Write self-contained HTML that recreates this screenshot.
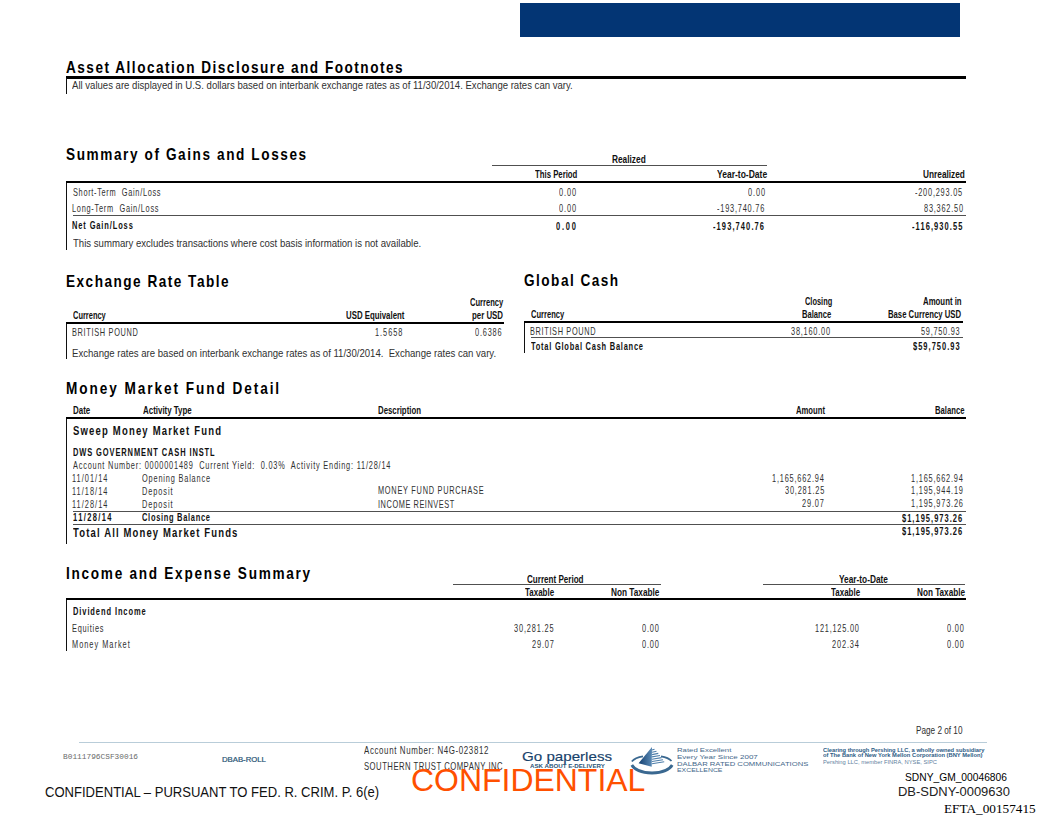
<!DOCTYPE html>
<html><head><meta charset="utf-8"><style>
html,body{margin:0;padding:0;background:#fff;}
body{width:1056px;height:833px;position:relative;overflow:hidden;font-family:"Liberation Sans",sans-serif;}
body>div{position:absolute;}
.t{white-space:pre;transform-origin:0 0;}
</style></head><body>
<div style="left:520px;top:2.6px;width:440px;height:34.6px;background:#033574"></div>
<div style="left:66px;top:76px;width:900px;height:2.7px;background:#000"></div>
<div style="left:65.85px;top:78px;width:1.3px;height:16.2px;background:#111"></div>
<div style="left:492px;top:165px;width:275px;height:1px;background:#505050"></div>
<div style="left:66px;top:180.5px;width:900px;height:2.5px;background:#000"></div>
<div style="left:65.94999999999999px;top:183px;width:1.3px;height:66.8px;background:#111"></div>
<div style="left:72.5px;top:215px;width:893.5px;height:1px;background:#505050"></div>
<div style="left:66.4px;top:321.8px;width:438.1px;height:2.2px;background:#000"></div>
<div style="left:66.14999999999999px;top:324px;width:1.3px;height:35.3px;background:#111"></div>
<div style="left:524px;top:321px;width:438.5px;height:2.3px;background:#000"></div>
<div style="left:523.85px;top:323px;width:1.3px;height:30.2px;background:#111"></div>
<div style="left:531px;top:337px;width:431.5px;height:1px;background:#505050"></div>
<div style="left:66px;top:416.6px;width:899.7px;height:2.4px;background:#000"></div>
<div style="left:65.85px;top:419px;width:1.3px;height:124.6px;background:#111"></div>
<div style="left:73px;top:511px;width:892.7px;height:1px;background:#505050"></div>
<div style="left:73px;top:524px;width:892.7px;height:1px;background:#505050"></div>
<div style="left:452.5px;top:584px;width:208.0px;height:1px;background:#505050"></div>
<div style="left:763.2px;top:584px;width:202.3px;height:1px;background:#505050"></div>
<div style="left:66px;top:598.3px;width:899.5px;height:2.2px;background:#000"></div>
<div style="left:65.94999999999999px;top:600px;width:1.3px;height:51px;background:#111"></div>
<div style="left:78.8px;top:742.1px;width:908.4px;height:1.4px;background:#b9cdd9"></div>
<svg style="position:absolute;left:625px;top:740px" width="60" height="40" viewBox="625 740 60 40">
<defs><linearGradient id="pg" x1="0" x2="1" y1="0" y2="0"><stop offset="0" stop-color="#143f70"/><stop offset="1" stop-color="#5a8ab5"/></linearGradient></defs>
<g fill="none" stroke="#3a6890">
<path d="M631.8 761.6 Q635 757.5 643 756.4" stroke-width="1.7"/>
<path d="M661 756.3 Q668.5 757.5 671.5 761" stroke-width="1.7"/>
<path d="M631.8 765 Q636 772.5 652 773 Q668 772.5 672.2 765" stroke-width="2.8"/>
</g>
<polygon points="652,747 638.6,763.3 651.7,766.7" fill="url(#pg)"/>
<g stroke="#4f7fab" stroke-width="1.1">
<line x1="652" y1="750" x2="654.5" y2="749.2"/>
<line x1="652" y1="752.3" x2="656.5" y2="751.3"/>
<line x1="652" y1="754.6" x2="658.3" y2="753.4"/>
<line x1="652" y1="756.9" x2="660" y2="755.5"/>
<line x1="652" y1="759.2" x2="661.6" y2="757.6"/>
<line x1="652" y1="761.5" x2="663" y2="759.7"/>
<line x1="652" y1="763.8" x2="664.2" y2="761.8"/>
</g>
</svg>
<div class="t" style="left:65.73px;top:58.51px;font-size:17px;line-height:17px;color:#000;transform:scaleX(0.8000);font-weight:bold;letter-spacing:1.867px;">Asset Allocation Disclosure and Footnotes</div>
<div class="t" style="left:72.30px;top:80.47px;font-size:11.5px;line-height:11.5px;color:#303030;transform:scaleX(0.8321);">All values are displayed in U.S. dollars based on interbank exchange rates as of 11/30/2014. Exchange rates can vary.</div>
<div class="t" style="left:66.33px;top:146.01px;font-size:17px;line-height:17px;color:#000;transform:scaleX(0.8000);font-weight:bold;letter-spacing:1.990px;">Summary of Gains and Losses</div>
<div class="t" style="left:611.60px;top:154.21px;font-size:10.5px;line-height:10.5px;color:#111;transform:scaleX(0.7912);font-weight:bold;">Realized</div>
<div class="t" style="left:535.32px;top:168.71px;font-size:10.5px;line-height:10.5px;color:#111;transform:scaleX(0.7407);font-weight:bold;">This Period</div>
<div class="t" style="left:717.11px;top:168.71px;font-size:10.5px;line-height:10.5px;color:#111;transform:scaleX(0.8101);font-weight:bold;">Year-to-Date</div>
<div class="t" style="left:923.10px;top:169.21px;font-size:10.5px;line-height:10.5px;color:#111;transform:scaleX(0.7891);font-weight:bold;">Unrealized</div>
<div class="t" style="left:72.51px;top:186.79px;font-size:11px;line-height:11px;color:#303030;transform:scaleX(0.6700);letter-spacing:1.029px;">Short-Term  Gain/Loss</div>
<div class="t" style="left:559.28px;top:186.79px;font-size:11px;line-height:11px;color:#303030;transform:scaleX(0.6700);letter-spacing:1.315px;">0.00</div>
<div class="t" style="left:748.28px;top:186.79px;font-size:11px;line-height:11px;color:#303030;transform:scaleX(0.6700);letter-spacing:1.315px;">0.00</div>
<div class="t" style="left:915.41px;top:186.79px;font-size:11px;line-height:11px;color:#303030;transform:scaleX(0.6700);letter-spacing:1.167px;">-200,293.05</div>
<div class="t" style="left:72.21px;top:203.29px;font-size:11px;line-height:11px;color:#303030;transform:scaleX(0.6700);letter-spacing:1.100px;">Long-Term  Gain/Loss</div>
<div class="t" style="left:559.28px;top:203.39px;font-size:11px;line-height:11px;color:#303030;transform:scaleX(0.6700);letter-spacing:1.315px;">0.00</div>
<div class="t" style="left:716.91px;top:203.39px;font-size:11px;line-height:11px;color:#303030;transform:scaleX(0.6700);letter-spacing:1.197px;">-193,740.76</div>
<div class="t" style="left:923.71px;top:203.39px;font-size:11px;line-height:11px;color:#303030;transform:scaleX(0.6700);letter-spacing:1.171px;">83,362.50</div>
<div class="t" style="left:72.35px;top:220.19px;font-size:11px;line-height:11px;color:#111;transform:scaleX(0.6800);font-weight:bold;letter-spacing:1.290px;">Net Gain/Loss</div>
<div class="t" style="left:556.48px;top:220.69px;font-size:11px;line-height:11px;color:#111;transform:scaleX(0.6800);font-weight:bold;letter-spacing:2.567px;">0.00</div>
<div class="t" style="left:712.78px;top:220.69px;font-size:11px;line-height:11px;color:#111;transform:scaleX(0.6800);font-weight:bold;letter-spacing:1.628px;">-193,740.76</div>
<div class="t" style="left:911.58px;top:220.69px;font-size:11px;line-height:11px;color:#111;transform:scaleX(0.6800);font-weight:bold;letter-spacing:1.604px;">-116,930.55</div>
<div class="t" style="left:72.61px;top:238.19px;font-size:11px;line-height:11px;color:#303030;transform:scaleX(0.8723);">This summary excludes transactions where cost basis information is not available.</div>
<div class="t" style="left:65.98px;top:272.71px;font-size:17px;line-height:17px;color:#000;transform:scaleX(0.8000);font-weight:bold;letter-spacing:1.860px;">Exchange Rate Table</div>
<div class="t" style="left:469.70px;top:297.11px;font-size:10.5px;line-height:10.5px;color:#111;transform:scaleX(0.7218);font-weight:bold;">Currency</div>
<div class="t" style="left:72.70px;top:310.01px;font-size:10.5px;line-height:10.5px;color:#111;transform:scaleX(0.7108);font-weight:bold;">Currency</div>
<div class="t" style="left:345.53px;top:310.01px;font-size:10.5px;line-height:10.5px;color:#111;transform:scaleX(0.7469);font-weight:bold;">USD Equivalent</div>
<div class="t" style="left:472.23px;top:310.01px;font-size:10.5px;line-height:10.5px;color:#111;transform:scaleX(0.7489);font-weight:bold;">per USD</div>
<div class="t" style="left:72.41px;top:327.09px;font-size:11px;line-height:11px;color:#303030;transform:scaleX(0.6700);letter-spacing:1.015px;">BRITISH POUND</div>
<div class="t" style="left:375.18px;top:326.69px;font-size:11px;line-height:11px;color:#303030;transform:scaleX(0.6700);letter-spacing:1.445px;">1.5658</div>
<div class="t" style="left:475.48px;top:326.69px;font-size:11px;line-height:11px;color:#303030;transform:scaleX(0.6700);letter-spacing:1.208px;">0.6386</div>
<div class="t" style="left:72.23px;top:348.19px;font-size:11px;line-height:11px;color:#303030;transform:scaleX(0.8709);">Exchange rates are based on interbank exchange rates as of 11/30/2014.  Exchange rates can vary.</div>
<div class="t" style="left:523.96px;top:272.01px;font-size:17px;line-height:17px;color:#000;transform:scaleX(0.8000);font-weight:bold;letter-spacing:1.853px;">Global Cash</div>
<div class="t" style="left:804.50px;top:295.81px;font-size:10.5px;line-height:10.5px;color:#111;transform:scaleX(0.7065);font-weight:bold;">Closing</div>
<div class="t" style="left:922.84px;top:295.81px;font-size:10.5px;line-height:10.5px;color:#111;transform:scaleX(0.7443);font-weight:bold;">Amount in</div>
<div class="t" style="left:530.70px;top:309.11px;font-size:10.5px;line-height:10.5px;color:#111;transform:scaleX(0.7196);font-weight:bold;">Currency</div>
<div class="t" style="left:802.24px;top:309.31px;font-size:10.5px;line-height:10.5px;color:#111;transform:scaleX(0.7252);font-weight:bold;">Balance</div>
<div class="t" style="left:888.29px;top:309.31px;font-size:10.5px;line-height:10.5px;color:#111;transform:scaleX(0.7355);font-weight:bold;">Base Currency USD</div>
<div class="t" style="left:530.41px;top:325.69px;font-size:11px;line-height:11px;color:#303030;transform:scaleX(0.6700);letter-spacing:0.978px;">BRITISH POUND</div>
<div class="t" style="left:791.03px;top:326.19px;font-size:11px;line-height:11px;color:#303030;transform:scaleX(0.6700);letter-spacing:1.166px;">38,160.00</div>
<div class="t" style="left:921.21px;top:326.19px;font-size:11px;line-height:11px;color:#303030;transform:scaleX(0.6700);letter-spacing:1.096px;">59,750.93</div>
<div class="t" style="left:530.93px;top:340.89px;font-size:11px;line-height:11px;color:#111;transform:scaleX(0.6800);font-weight:bold;letter-spacing:1.113px;">Total Global Cash Balance</div>
<div class="t" style="left:912.63px;top:341.19px;font-size:11px;line-height:11px;color:#111;transform:scaleX(0.6800);font-weight:bold;letter-spacing:1.505px;">$59,750.93</div>
<div class="t" style="left:65.98px;top:380.41px;font-size:17px;line-height:17px;color:#000;transform:scaleX(0.8000);font-weight:bold;letter-spacing:2.425px;">Money Market Fund Detail</div>
<div class="t" style="left:72.52px;top:405.01px;font-size:10.5px;line-height:10.5px;color:#111;transform:scaleX(0.7550);font-weight:bold;">Date</div>
<div class="t" style="left:142.84px;top:405.01px;font-size:10.5px;line-height:10.5px;color:#111;transform:scaleX(0.7552);font-weight:bold;">Activity Type</div>
<div class="t" style="left:378.43px;top:405.21px;font-size:10.5px;line-height:10.5px;color:#111;transform:scaleX(0.7435);font-weight:bold;">Description</div>
<div class="t" style="left:796.25px;top:405.21px;font-size:10.5px;line-height:10.5px;color:#111;transform:scaleX(0.7307);font-weight:bold;">Amount</div>
<div class="t" style="left:935.04px;top:405.21px;font-size:10.5px;line-height:10.5px;color:#111;transform:scaleX(0.7316);font-weight:bold;">Balance</div>
<div class="t" style="left:72.81px;top:424.72px;font-size:12.5px;line-height:12.5px;color:#111;transform:scaleX(0.7600);font-weight:bold;letter-spacing:1.557px;">Sweep Money Market Fund</div>
<div class="t" style="left:72.55px;top:446.89px;font-size:11px;line-height:11px;color:#111;transform:scaleX(0.6800);font-weight:bold;letter-spacing:1.318px;">DWS GOVERNMENT CASH INSTL</div>
<div class="t" style="left:73.00px;top:460.19px;font-size:11px;line-height:11px;color:#303030;transform:scaleX(0.6700);letter-spacing:1.182px;">Account Number: 0000001489  Current Yield:  0.03%  Activity Ending: 11/28/14</div>
<div class="t" style="left:72.48px;top:472.99px;font-size:11px;line-height:11px;color:#303030;transform:scaleX(0.6700);letter-spacing:1.550px;">11/01/14</div>
<div class="t" style="left:142.21px;top:472.99px;font-size:11px;line-height:11px;color:#303030;transform:scaleX(0.6700);letter-spacing:1.228px;">Opening Balance</div>
<div class="t" style="left:771.98px;top:472.59px;font-size:11px;line-height:11px;color:#303030;transform:scaleX(0.6700);letter-spacing:1.191px;">1,165,662.94</div>
<div class="t" style="left:911.08px;top:472.59px;font-size:11px;line-height:11px;color:#303030;transform:scaleX(0.6700);letter-spacing:1.191px;">1,165,662.94</div>
<div class="t" style="left:72.48px;top:485.99px;font-size:11px;line-height:11px;color:#303030;transform:scaleX(0.6700);letter-spacing:1.550px;">11/18/14</div>
<div class="t" style="left:141.91px;top:485.99px;font-size:11px;line-height:11px;color:#303030;transform:scaleX(0.6700);letter-spacing:1.389px;">Deposit</div>
<div class="t" style="left:378.41px;top:485.49px;font-size:11px;line-height:11px;color:#303030;transform:scaleX(0.6700);letter-spacing:1.096px;">MONEY FUND PURCHASE</div>
<div class="t" style="left:784.58px;top:485.49px;font-size:11px;line-height:11px;color:#303030;transform:scaleX(0.6700);letter-spacing:1.213px;">30,281.25</div>
<div class="t" style="left:911.08px;top:485.49px;font-size:11px;line-height:11px;color:#303030;transform:scaleX(0.6700);letter-spacing:1.211px;">1,195,944.19</div>
<div class="t" style="left:72.48px;top:498.89px;font-size:11px;line-height:11px;color:#303030;transform:scaleX(0.6700);letter-spacing:1.550px;">11/28/14</div>
<div class="t" style="left:141.91px;top:498.89px;font-size:11px;line-height:11px;color:#303030;transform:scaleX(0.6700);letter-spacing:1.389px;">Deposit</div>
<div class="t" style="left:378.34px;top:498.69px;font-size:11px;line-height:11px;color:#303030;transform:scaleX(0.6700);letter-spacing:0.846px;">INCOME REINVEST</div>
<div class="t" style="left:802.13px;top:498.49px;font-size:11px;line-height:11px;color:#303030;transform:scaleX(0.6700);letter-spacing:1.256px;">29.07</div>
<div class="t" style="left:911.08px;top:498.49px;font-size:11px;line-height:11px;color:#303030;transform:scaleX(0.6700);letter-spacing:1.201px;">1,195,973.26</div>
<div class="t" style="left:72.55px;top:512.19px;font-size:11px;line-height:11px;color:#111;transform:scaleX(0.6800);font-weight:bold;letter-spacing:2.041px;">11/28/14</div>
<div class="t" style="left:142.20px;top:512.19px;font-size:11px;line-height:11px;color:#111;transform:scaleX(0.6800);font-weight:bold;letter-spacing:1.030px;">Closing Balance</div>
<div class="t" style="left:901.73px;top:512.79px;font-size:11px;line-height:11px;color:#111;transform:scaleX(0.6800);font-weight:bold;letter-spacing:1.509px;">$1,195,973.26</div>
<div class="t" style="left:72.91px;top:527.22px;font-size:12.5px;line-height:12.5px;color:#111;transform:scaleX(0.7600);font-weight:bold;letter-spacing:1.503px;">Total All Money Market Funds</div>
<div class="t" style="left:901.73px;top:525.99px;font-size:11px;line-height:11px;color:#111;transform:scaleX(0.6800);font-weight:bold;letter-spacing:1.509px;">$1,195,973.26</div>
<div class="t" style="left:65.78px;top:565.11px;font-size:17px;line-height:17px;color:#000;transform:scaleX(0.8000);font-weight:bold;letter-spacing:2.156px;">Income and Expense Summary</div>
<div class="t" style="left:527.18px;top:573.61px;font-size:10.5px;line-height:10.5px;color:#111;transform:scaleX(0.7688);font-weight:bold;">Current Period</div>
<div class="t" style="left:839.22px;top:573.61px;font-size:10.5px;line-height:10.5px;color:#111;transform:scaleX(0.7922);font-weight:bold;">Year-to-Date</div>
<div class="t" style="left:525.12px;top:587.31px;font-size:10.5px;line-height:10.5px;color:#111;transform:scaleX(0.7590);font-weight:bold;">Taxable</div>
<div class="t" style="left:611.11px;top:587.31px;font-size:10.5px;line-height:10.5px;color:#111;transform:scaleX(0.7852);font-weight:bold;">Non Taxable</div>
<div class="t" style="left:831.32px;top:587.31px;font-size:10.5px;line-height:10.5px;color:#111;transform:scaleX(0.7590);font-weight:bold;">Taxable</div>
<div class="t" style="left:916.51px;top:587.31px;font-size:10.5px;line-height:10.5px;color:#111;transform:scaleX(0.7786);font-weight:bold;">Non Taxable</div>
<div class="t" style="left:72.55px;top:605.89px;font-size:11px;line-height:11px;color:#111;transform:scaleX(0.6800);font-weight:bold;letter-spacing:1.344px;">Dividend Income</div>
<div class="t" style="left:72.41px;top:622.59px;font-size:11px;line-height:11px;color:#303030;transform:scaleX(0.6700);letter-spacing:1.107px;">Equities</div>
<div class="t" style="left:513.68px;top:623.19px;font-size:11px;line-height:11px;color:#303030;transform:scaleX(0.6700);letter-spacing:1.269px;">30,281.25</div>
<div class="t" style="left:641.58px;top:623.19px;font-size:11px;line-height:11px;color:#303030;transform:scaleX(0.6700);letter-spacing:1.265px;">0.00</div>
<div class="t" style="left:814.98px;top:623.19px;font-size:11px;line-height:11px;color:#303030;transform:scaleX(0.6700);letter-spacing:1.160px;">121,125.00</div>
<div class="t" style="left:946.98px;top:623.19px;font-size:11px;line-height:11px;color:#303030;transform:scaleX(0.6700);letter-spacing:1.265px;">0.00</div>
<div class="t" style="left:72.41px;top:638.59px;font-size:11px;line-height:11px;color:#303030;transform:scaleX(0.6700);letter-spacing:1.504px;">Money Market</div>
<div class="t" style="left:531.53px;top:639.19px;font-size:11px;line-height:11px;color:#303030;transform:scaleX(0.6700);letter-spacing:1.256px;">29.07</div>
<div class="t" style="left:641.58px;top:639.19px;font-size:11px;line-height:11px;color:#303030;transform:scaleX(0.6700);letter-spacing:1.265px;">0.00</div>
<div class="t" style="left:831.93px;top:639.19px;font-size:11px;line-height:11px;color:#303030;transform:scaleX(0.6700);letter-spacing:1.289px;">202.34</div>
<div class="t" style="left:946.98px;top:639.19px;font-size:11px;line-height:11px;color:#303030;transform:scaleX(0.6700);letter-spacing:1.265px;">0.00</div>
<div class="t" style="left:916.34px;top:725.19px;font-size:11px;line-height:11px;color:#303030;transform:scaleX(0.7446);">Page 2 of 10</div>
<div class="t" style="left:63.05px;top:752.93px;font-size:8px;line-height:8px;color:#6a6a6a;transform:scaleX(0.9766);font-family:'Liberation Mono';">B0111796CSF30016</div>
<div class="t" style="left:222.08px;top:757.40px;font-size:6.5px;line-height:6.5px;color:#2a5676;transform:scaleX(1.1921);-webkit-text-stroke:0.2px #2a5676;">DBAB-ROLL</div>
<div class="t" style="left:364.20px;top:744.99px;font-size:11px;line-height:11px;color:#303030;transform:scaleX(0.7200);letter-spacing:0.868px;">Account Number: N4G-023812</div>
<div class="t" style="left:363.89px;top:761.19px;font-size:11px;line-height:11px;color:#303030;transform:scaleX(0.7000);letter-spacing:0.694px;">SOUTHERN TRUST COMPANY INC</div>
<div class="t" style="left:522.44px;top:749.70px;font-size:13px;line-height:13px;color:#17426b;transform:scaleX(1.1641);-webkit-text-stroke:0.15px #17426b;">Go paperless</div>
<div class="t" style="left:529.68px;top:764.64px;font-size:4.8px;line-height:4.8px;color:#2a5478;transform:scaleX(1.2851);font-weight:bold;">ASK ABOUT E-DELIVERY</div>
<div class="t" style="left:676.98px;top:748.06px;font-size:5.6px;line-height:5.6px;color:#44678a;transform:scaleX(1.3871);">Rated Excellent</div>
<div class="t" style="left:676.96px;top:754.56px;font-size:5.6px;line-height:5.6px;color:#44678a;transform:scaleX(1.4271);">Every Year Since 2007</div>
<div class="t" style="left:676.99px;top:761.76px;font-size:5.6px;line-height:5.6px;color:#44678a;transform:scaleX(1.3707);">DALBAR RATED COMMUNICATIONS</div>
<div class="t" style="left:677.05px;top:767.76px;font-size:5.6px;line-height:5.6px;color:#44678a;transform:scaleX(1.2286);">EXCELLENCE</div>
<div class="t" style="left:823.27px;top:748.24px;font-size:5.5px;line-height:5.5px;color:#2d5b85;transform:scaleX(1.0466);font-weight:bold;">Clearing through Pershing LLC, a wholly owned subsidiary</div>
<div class="t" style="left:823.33px;top:753.24px;font-size:5.5px;line-height:5.5px;color:#2d5b85;transform:scaleX(1.0497);font-weight:bold;">of The Bank of New York Mellon Corporation (BNY Mellon)</div>
<div class="t" style="left:823.04px;top:760.04px;font-size:5.5px;line-height:5.5px;color:#5f7fa0;transform:scaleX(1.0501);">Pershing LLC, member FINRA, NYSE, SIPC</div>
<div class="t" style="left:45.35px;top:784.20px;font-size:15px;line-height:15px;color:#111;transform:scaleX(0.8697);">CONFIDENTIAL – PURSUANT TO FED. R. CRIM. P. 6(e)</div>
<div class="t" style="left:410.50px;top:764.21px;font-size:32px;line-height:32px;color:#ff5000;transform:scaleX(0.9985);">CONFIDENTIAL</div>
<div class="t" style="left:905.39px;top:772.58px;font-size:10.3px;line-height:10.3px;color:#000;transform:scaleX(0.9950);">SDNY_GM_00046806</div>
<div class="t" style="left:898.16px;top:784.66px;font-size:13.4px;line-height:13.4px;color:#222;transform:scaleX(0.9680);">DB-SDNY-0009630</div>
<div class="t" style="left:944.43px;top:802.33px;font-size:13.1px;line-height:13.1px;color:#000;transform:scaleX(1.0123);font-family:'Liberation Serif';">EFTA_00157415</div>
</body></html>
